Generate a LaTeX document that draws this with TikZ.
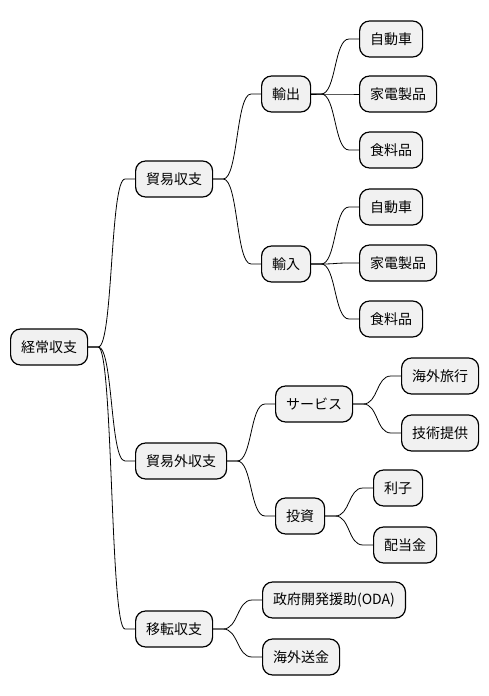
\documentclass[tikz,border=0pt]{standalone}
\usepackage{fontspec}
\setmainfont{Noto Sans CJK JP}
\usetikzlibrary{calc}
\definecolor{boxfill}{HTML}{F1F1F1}
\tikzset{
  mm/.style={draw=black, fill=boxfill, rounded corners=10pt, line width=1.2pt,
    minimum height=36pt, inner xsep=10.5pt, inner ysep=0pt, anchor=west,
    font=\fontsize{14pt}{16pt}\selectfont},
  link/.style={line width=0.8pt, black}
}
\newcommand\mmlink[2]{\draw[link] (#1.east) -- ++(10,0) .. controls +(15,0) and +(-15,0) .. ($(#2.west)+(-10,0)$) -- (#2.west);}
\begin{document}
\begin{tikzpicture}[x=1pt,y=-1pt]
\useasboundingbox (0,0) rectangle (488,696);
\node[mm] (root) at (10,347) {経常収支};
\node[mm] (mu) at (135,179) {貿易収支};
\node[mm] (ex) at (261,94) {輸出};
\node[mm] (a1) at (359,39) {自動車};
\node[mm] (a2) at (359,94) {家電製品};
\node[mm] (a3) at (359,150) {食料品};
\node[mm] (im) at (261,264) {輸入};
\node[mm] (b1) at (359,207) {自動車};
\node[mm] (b2) at (359,263) {家電製品};
\node[mm] (b3) at (359,319) {食料品};
\node[mm] (bg) at (135,461) {貿易外収支};
\node[mm] (svc) at (275,404) {サービス};
\node[mm] (c1) at (401,376) {海外旅行};
\node[mm] (c2) at (401,433) {技術提供};
\node[mm] (inv) at (275,516) {投資};
\node[mm] (d1) at (373,488) {利子};
\node[mm] (d2) at (373,545) {配当金};
\node[mm] (it) at (135,629) {移転収支};
\node[mm] (e1) at (262,600) {政府開発援助(ODA)};
\node[mm] (e2) at (262,657) {海外送金};
\mmlink{root}{mu}
\mmlink{root}{bg}
\mmlink{root}{it}
\mmlink{mu}{ex}
\mmlink{mu}{im}
\mmlink{ex}{a1}
\mmlink{ex}{a2}
\mmlink{ex}{a3}
\mmlink{im}{b1}
\mmlink{im}{b2}
\mmlink{im}{b3}
\mmlink{bg}{svc}
\mmlink{bg}{inv}
\mmlink{svc}{c1}
\mmlink{svc}{c2}
\mmlink{inv}{d1}
\mmlink{inv}{d2}
\mmlink{it}{e1}
\mmlink{it}{e2}
\end{tikzpicture}
\end{document}
